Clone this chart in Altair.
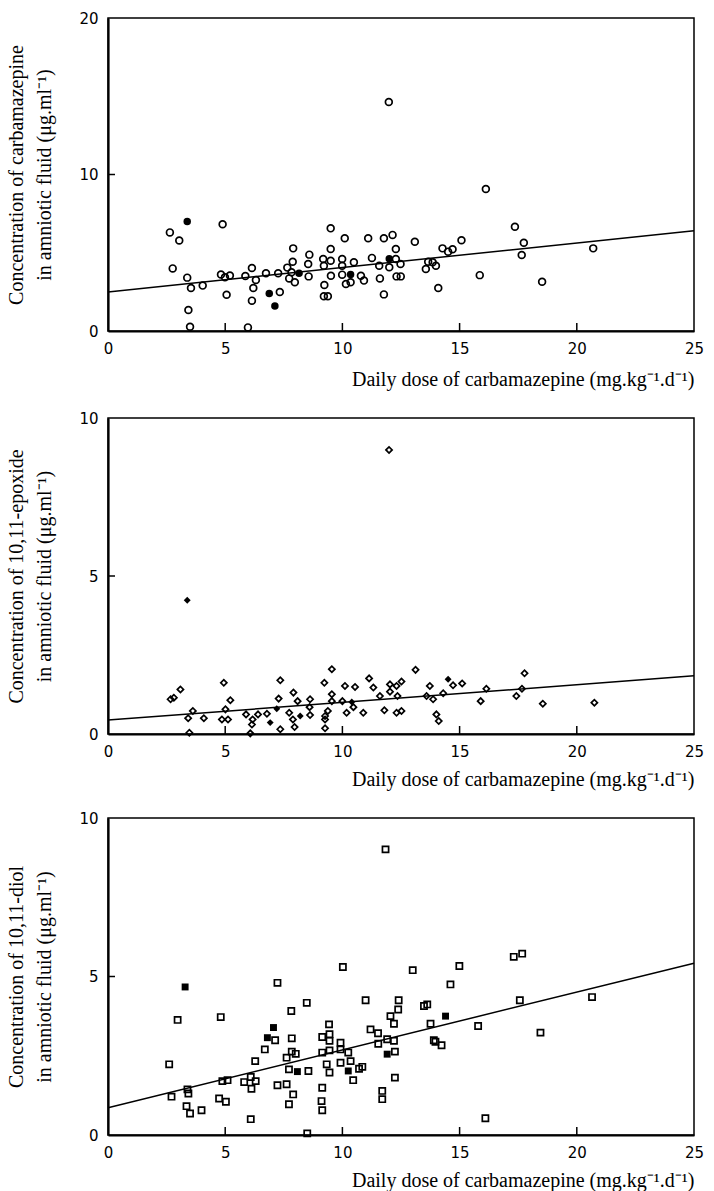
import altair as alt
import pandas as pd

# ---------------- data ----------------
XTICKS = [5, 10, 15, 20]
XLABELS = [0, 5, 10, 15, 20, 25]

# Panel 1: carbamazepine
cbz_open_x = [2.64, 3.04, 2.76, 3.38, 3.54, 4.04, 3.43, 3.5, 4.89, 4.82, 4.99, 5.2, 5.06, 5.86, 5.97,
              6.14, 6.31, 6.2, 6.14, 6.74, 7.26, 7.33, 7.9, 7.88, 7.65, 7.83, 7.73, 7.97, 8.59, 8.54,
              8.56, 9.18, 9.21, 9.5, 9.5, 9.5, 9.51, 9.23, 9.21, 9.38, 10.1, 9.99, 9.99, 9.99, 10.15,
              10.35, 10.49, 10.79, 10.92, 11.1, 11.26, 11.57, 11.6, 11.77, 11.77, 12.14, 12.28, 12.28,
              12.0, 12.48, 12.31, 12.49, 11.98, 16.12, 17.36, 17.74, 17.65, 20.7, 18.52, 15.86, 15.08,
              14.7, 14.51, 14.27, 13.09, 13.66, 13.85, 13.56, 13.99, 14.09]
cbz_open_y = [6.3, 5.78, 4.0, 3.41, 2.75, 2.9, 1.34, 0.27, 6.82, 3.61, 3.43, 3.54, 2.32, 3.51, 0.23,
              4.03, 3.26, 2.75, 1.94, 3.69, 3.69, 2.49, 5.28, 4.43, 4.05, 3.75, 3.36, 3.11, 4.88, 4.28,
              3.49, 4.6, 4.17, 6.56, 5.24, 4.49, 3.53, 2.94, 2.22, 2.22, 5.93, 4.6, 4.17, 3.6, 3.0,
              3.11, 4.39, 3.53, 3.22, 5.93, 4.67, 4.17, 3.36, 5.93, 2.34, 6.14, 5.24, 4.6,
              4.07, 4.28, 3.49, 3.49, 14.63, 9.07, 6.66, 5.64, 4.86, 5.28, 3.15, 3.57, 5.8,
              5.22, 5.07, 5.28, 5.7, 4.43, 4.39, 3.96, 4.17, 2.75]
cbz_fill_x = [3.38, 6.88, 7.12, 8.15, 10.35, 12.0]
cbz_fill_y = [6.99, 2.4, 1.6, 3.69, 3.61, 4.62]
cbz_fit_x = [0, 25]
cbz_fit_y = [2.49, 6.41]

# Panel 2: 10,11-epoxide
epo_open_x = [11.99, 2.67, 2.81, 3.09, 3.62, 3.42, 3.47, 4.09, 4.94, 5.22, 5.01, 4.86, 5.12, 5.89, 6.07,
              6.17, 6.14, 6.4, 6.78, 7.28, 7.35, 7.35, 7.91, 8.09, 7.73, 7.89, 7.96, 8.62, 8.6, 8.62,
              9.23, 9.55, 9.55, 9.55, 9.38, 9.26, 9.26, 9.26, 10.0, 10.11, 10.54, 10.18, 10.47, 10.89,
              11.14, 11.32, 11.6, 11.79, 12.03, 12.31, 12.52, 12.03, 12.35, 12.31, 12.52, 13.12, 13.73,
              13.59, 13.87, 14.3, 14.01, 14.11, 14.72, 15.11, 15.9, 16.14, 17.42, 17.66, 17.77, 18.55,
              20.75]
epo_open_y = [8.99, 1.1, 1.15, 1.41, 0.73, 0.5, 0.04, 0.5, 1.62, 1.07, 0.78, 0.46, 0.46, 0.62, 0.02,
              0.46, 0.3, 0.62, 0.64, 1.12, 1.7, 0.15, 1.31, 1.04, 0.67, 0.46, 0.22, 1.1, 0.85, 0.6,
              1.62, 2.05, 1.26, 1.04, 0.73, 0.57, 0.46, 0.18, 1.04, 1.52, 1.49, 0.67, 0.85, 0.67,
              1.76, 1.47, 1.2, 0.75, 1.57, 1.52, 1.66, 1.34, 1.2, 0.67, 0.73, 2.03, 1.52,
              1.2, 1.1, 1.29, 0.62, 0.41, 1.54, 1.6, 1.04, 1.43, 1.2, 1.43, 1.92, 0.96,
              0.99]
epo_fill_x = [3.38, 6.92, 7.2, 8.2, 10.4, 14.51]
epo_fill_y = [4.23, 0.36, 0.8, 0.57, 1.01, 1.73]
epo_fit_x = [0, 25]
epo_fit_y = [0.44, 1.84]

# Panel 3: 10,11-diol
diol_open_x = [2.97, 4.81, 2.61, 2.71, 3.39, 3.43, 3.35, 3.5, 3.99, 4.74, 5.03, 4.88, 5.1, 5.81, 6.09,
               6.3, 6.12, 6.09, 6.28, 6.69, 7.13, 7.82, 7.84, 7.84, 8.01, 7.62, 7.72, 8.55, 7.23, 7.62,
               7.9, 7.72, 8.5, 8.48, 9.14, 9.43, 9.45, 9.45, 9.14, 9.45, 9.33, 9.45, 9.14, 9.11, 9.14,
               9.92, 9.92, 9.92, 10.25, 10.35, 10.46, 10.71, 10.85, 11.2, 11.52, 11.53, 11.7, 11.7,
               11.91, 12.05, 12.2, 12.2, 12.24, 12.24, 12.4, 12.38, 13.48, 13.62, 13.76, 13.9, 13.97,
               14.23, 15.79, 18.45, 16.1, 17.57, 20.65, 11.84, 10.02, 7.23, 10.99, 13.0, 14.99, 14.61,
               17.31, 17.67]
diol_open_y = [3.63, 3.72, 2.23, 1.21, 1.44, 1.31, 0.91, 0.68, 0.78, 1.15, 1.05, 1.7, 1.73, 1.67, 1.83,
               1.7, 1.46, 0.5, 2.33, 2.7, 2.99, 3.91, 3.05, 2.63, 2.56, 2.44, 2.07, 2.02, 1.57, 1.6,
               1.28, 0.97, 0.05, 4.17, 3.09, 3.49, 3.18, 2.97, 2.6, 2.67, 2.23, 1.97, 1.49, 1.07, 0.78,
               2.91, 2.7, 2.28, 2.6, 2.33, 1.73, 2.09, 2.15, 3.33, 3.21, 2.88, 1.39, 1.13,
               3.02, 3.75, 3.51, 2.97, 2.63, 1.81, 4.25, 3.96, 4.07, 4.12, 3.51, 2.99, 2.94,
               2.83, 3.44, 3.23, 0.53, 4.25, 4.35, 9.01, 5.3, 4.8, 4.25, 5.2, 5.33, 4.75,
               5.62, 5.72]
diol_fill_x = [3.29, 7.06, 6.8, 8.08, 10.25, 11.91, 14.4]
diol_fill_y = [4.67, 3.39, 3.07, 2.0, 2.02, 2.55, 3.75]
diol_fit_x = [0, 25]
diol_fit_y = [0.86, 5.42]

XTITLE = "Daily dose of carbamazepine (mg.kg\u207b\u00b9.d\u207b\u00b9)"
UNIT_LINE = "in amniotic fluid (\u03bcg.ml\u207b\u00b9)"

SERIF = "Liberation Serif"
SANS = "DejaVu Sans"
W = 586


def panel(ox, oy, fx, fy, lx, ly, shape, size, ymax, yvals, ytick, ytitle, height,
          xtitle_pad, ytitle_pad):
    xs = alt.Scale(domain=[0, 25], nice=False, zero=False)
    ys = alt.Scale(domain=[0, ymax], nice=False, zero=False)
    open_df = pd.DataFrame({"dose": ox, "conc": oy})
    fill_df = pd.DataFrame({"dose": fx, "conc": fy})
    fit_df = pd.DataFrame({"dose": lx, "conc": ly})
    xt_df = pd.DataFrame({"dose": XTICKS})
    yt_df = pd.DataFrame({"conc": ytick})

    xaxis = alt.Axis(values=XLABELS, title=XTITLE, ticks=False, tickSize=0, grid=False,
                     labelFont=SANS, labelFontSize=15, labelPadding=10, labelFlush=False,
                     labelColor="black", titleFont=SERIF, titleFontSize=20,
                     titleFontWeight="normal", titleColor="black", titleAnchor="end",
                     titlePadding=xtitle_pad, domainColor="black", domainWidth=2.2)
    yaxis = alt.Axis(values=yvals, title=ytitle, ticks=False, tickSize=0, grid=False,
                     labelFont=SANS, labelFontSize=15, labelPadding=10, labelColor="black",
                     titleFont=SERIF, titleFontSize=20, titleFontWeight="normal",
                     titleColor="black", titleLineHeight=28, titlePadding=ytitle_pad,
                     domainColor="black", domainWidth=2.2)
    X = alt.X("dose:Q", scale=xs, axis=xaxis)
    Y = alt.Y("conc:Q", scale=ys, axis=yaxis)

    line = alt.Chart(fit_df).mark_line(color="black", strokeWidth=1.5).encode(x=X, y=Y)
    xt = alt.Chart(xt_df).mark_rule(color="black", strokeWidth=1.5).encode(
        x=X, y=alt.value(height), y2=alt.value(height - 8),
    )
    yt = alt.Chart(yt_df).mark_rule(color="black", strokeWidth=1.5).encode(
        y=Y, x=alt.value(0), x2=alt.value(7),
    )
    opn = alt.Chart(open_df).mark_point(shape=shape, filled=False, color="black",
                                        strokeWidth=1.7, size=size, opacity=1).encode(x=X, y=Y)
    fil = alt.Chart(fill_df).mark_point(shape=shape, filled=True, color="black",
                                        size=size + 10, opacity=1).encode(x=X, y=Y)
    return alt.layer(line, xt, yt, opn, fil).properties(width=W, height=height)


p1 = panel(cbz_open_x, cbz_open_y, cbz_fill_x, cbz_fill_y, cbz_fit_x, cbz_fit_y,
           "circle", 46, 20, [0, 10, 20], [10],
           ["Concentration of carbamazepine", UNIT_LINE], 313, 13, 24)
p2 = panel(epo_open_x, epo_open_y, epo_fill_x, epo_fill_y, epo_fit_x, epo_fit_y,
           "diamond", 38, 10, [0, 5, 10], [5],
           ["Concentration of 10,11-epoxide", UNIT_LINE], 316, 10, 24)
p3 = panel(diol_open_x, diol_open_y, diol_fill_x, diol_fill_y, diol_fit_x, diol_fit_y,
           "square", 38, 10, [0, 5, 10], [5],
           ["Concentration of 10,11-diol", UNIT_LINE], 317, 10, 24)

chart = alt.vconcat(p1, p2, p3, spacing=20).properties(
    padding={"left": 6, "top": 10, "right": 5, "bottom": 0},
    background="white",
).configure_view(stroke="black", strokeWidth=1.5)

chart.save("out.html", embed_options={"renderer": "svg", "actions": False})
